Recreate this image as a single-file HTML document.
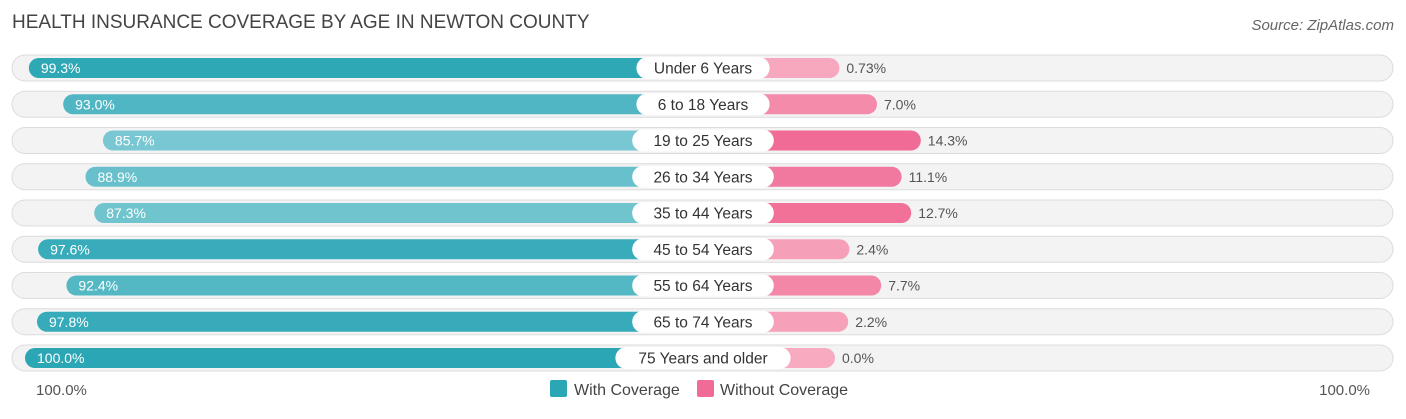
<!DOCTYPE html>
<html><head><meta charset="utf-8"><style>
body{margin:0;background:#fff;font-family:"Liberation Sans",sans-serif;}
svg text{font-family:"Liberation Sans",sans-serif;}
</style></head><body>
<svg id="c" width="1406" height="414" xmlns="http://www.w3.org/2000/svg">
<text x="12" y="28" font-size="19" fill="#444">HEALTH INSURANCE COVERAGE BY AGE IN NEWTON COUNTY</text>
<text x="1394" y="30" font-size="15" fill="#666" font-style="italic" text-anchor="end">Source: ZipAtlas.com</text>
<g id="rows"></g>
<text x="36" y="395" font-size="15" fill="#555">100.0%</text>
<text x="1370" y="395" font-size="15" fill="#555" text-anchor="end">100.0%</text>
<rect x="550" y="380" width="17" height="17" rx="2" fill="#2ba6b5"/>
<text x="574" y="395" font-size="16" fill="#444">With Coverage</text>
<rect x="697" y="380" width="17" height="17" rx="2" fill="#f06b95"/>
<text x="720" y="395" font-size="16" fill="#444">Without Coverage</text>
</svg>
<script>
const categories=["Under 6 Years","6 to 18 Years","19 to 25 Years","26 to 34 Years","35 to 44 Years","45 to 54 Years","55 to 64 Years","65 to 74 Years","75 Years and older"];
const withCov=[99.3,93.0,85.7,88.9,87.3,97.6,92.4,97.8,100.0];
const withoutCov=[0.73,7.0,14.3,11.1,12.7,2.4,7.7,2.2,0.0];
const withLabels=["99.3%","93.0%","85.7%","88.9%","87.3%","97.6%","92.4%","97.8%","100.0%"];
const withoutLabels=["0.73%","7.0%","14.3%","11.1%","12.7%","2.4%","7.7%","2.2%","0.0%"];
const NS="http://www.w3.org/2000/svg";
const g=document.getElementById('rows');
const cx=703;
function leftX(v){return 25+(100-v)*5.45;}
function rightX(v){return 835+v*6.0;}
function rowY(i){return 68+i*36.25;}
function mix(a,b,t){return 'rgb('+a.map((x,k)=>Math.round(x+(b[k]-x)*t)).join(',')+')';}
function mk(tag,attrs){const e=document.createElementNS(NS,tag);for(const k in attrs)e.setAttribute(k,attrs[k]);g.appendChild(e);return e;}
categories.forEach((cat,i)=>{
  const y=rowY(i);
  const tr=mk('rect',{x:12,y:y-13,width:1381,height:26,rx:13,fill:'#f3f3f3',stroke:'#dcdcdc','stroke-width':1});
  
  
  const lx=leftX(withCov[i]);
  const tw=Math.min(1,Math.max(0,(100-withCov[i])/15));
  const b1=mk('rect',{x:lx,y:y-10,width:cx+20-lx,height:20,rx:10,fill:mix([43,166,181],[124,201,211],tw)});
  
  
  const rx=rightX(withoutCov[i]);
  const tp=Math.min(1,withoutCov[i]/14);
  const b2=mk('rect',{x:cx-20,y:y-10,width:rx-(cx-20),height:20,rx:10,fill:mix([247,170,192],[240,107,149],tp)});
  
  
  const t1=mk('text',{x:lx+12,y:y+5,'font-size':14,fill:'#fff'});
  t1.textContent=withLabels[i];
  
  
  const t2=mk('text',{x:rx+7,y:y+5,'font-size':14,fill:'#555'});
  t2.textContent=withoutLabels[i];
  
  
  const w=cat.length*8.4+24;
  const pill=mk('rect',{x:cx-w/2,y:y-11,width:w,height:22,rx:11,fill:'#fff'});
  
  
  const ct=mk('text',{x:cx,y:y+5.5,'font-size':15.5,fill:'#333','text-anchor':'middle'});
  ct.textContent=cat;
  
  
});
</script>
</body></html>
